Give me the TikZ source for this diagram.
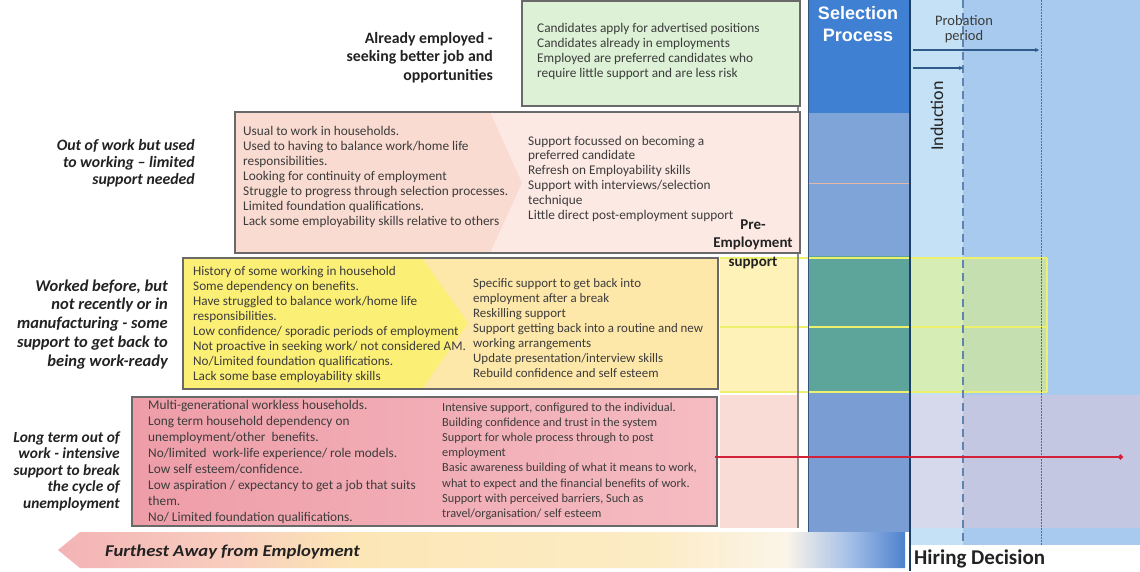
\documentclass[tikz,border=0pt]{standalone}
\usepackage{fontspec}
\setmainfont{Carlito}
\newfontfamily\arialf{Liberation Sans}
\usetikzlibrary{arrows.meta}
\definecolor{greenfill}{HTML}{DDF1D6}
\definecolor{boxborder}{HTML}{696969}
\definecolor{rowtwoleft}{HTML}{F9DBD1}
\definecolor{rowtworight}{HTML}{FCE9E3}
\definecolor{rowthreeyellow}{HTML}{FCEF76}
\definecolor{rowthreeright}{HTML}{FDE7A9}
\definecolor{rowfourleft}{HTML}{EE9DA8}
\definecolor{rowfourright}{HTML}{F5BCC2}
\definecolor{preyellow}{HTML}{FFF2B8}
\definecolor{prepink}{HTML}{FADCD6}
\definecolor{seltop}{HTML}{3F80D2}
\definecolor{selmid}{HTML}{7FA4D7}
\definecolor{selteal}{HTML}{5DA59B}
\definecolor{selbot}{HTML}{7A9ED4}
\definecolor{lightcol}{HTML}{C4E1F5}
\definecolor{rightblue}{HTML}{A8CAEE}
\definecolor{bandgreenA}{HTML}{D6EDB6}
\definecolor{bandgreenB}{HTML}{C6DFB1}
\definecolor{bandline}{HTML}{ECF06C}
\definecolor{pinkbandA}{HTML}{D6D9EB}
\definecolor{pinkbandB}{HTML}{C3C7E2}
\definecolor{navy}{HTML}{1F3E66}
\definecolor{seledge}{HTML}{35557F}
\definecolor{dashcol}{HTML}{5F84B0}
\definecolor{dotcol}{HTML}{4A6F9E}
\definecolor{redline}{HTML}{D4213A}
\definecolor{arrowline}{HTML}{2E5B8A}
\definecolor{txtgray}{HTML}{3C3C3C}
\definecolor{lblcol}{HTML}{222222}
\definecolor{grayline}{HTML}{8A8A8A}
\definecolor{faintorange}{HTML}{E6B7A5}
\definecolor{arrA}{HTML}{F3B3B5}
\definecolor{arrB}{HTML}{F8CDBE}
\definecolor{arrC}{HTML}{FCE6B6}
\definecolor{arrD}{HTML}{FCECC4}
\definecolor{arrE}{HTML}{FBF4E8}
\definecolor{arrF}{HTML}{A9C3E8}
\definecolor{arrG}{HTML}{4E82CE}
\pgfdeclarehorizontalshading{arrowshade}{100bp}{color(0bp)=(arrA); color(25bp)=(arrA); color(35bp)=(arrB); color(42.5bp)=(arrC); color(60bp)=(arrD); color(68bp)=(arrE); color(71.5bp)=(arrF); color(75bp)=(arrG); color(100bp)=(arrG)}
\newcommand\LftLines[2]{\vtop{\baselineskip=#1\lineskiplimit=-30pt\lineskip=0pt\halign{##\hfil\cr#2\crcr}}}
\newcommand\RgtLines[2]{\vtop{\baselineskip=#1\lineskiplimit=-30pt\lineskip=0pt\halign{\hfil##\cr#2\crcr}}}
\newcommand\CtrLines[2]{\vtop{\baselineskip=#1\lineskiplimit=-30pt\lineskip=0pt\halign{\hfil##\hfil\cr#2\crcr}}}
\begin{document}
\begin{tikzpicture}[x=1pt,y=-1pt,
  boxtext/.style={inner sep=0pt, anchor=base west, text=txtgray},
  lbl/.style={inner sep=0pt, anchor=base east, font=\fontsize{15.8}{18}\selectfont\bfseries, text=lblcol},
  lbli/.style={lbl, font=\fontsize{15.8}{18}\selectfont\bfseries\itshape},
  rowborder/.style={draw=boxborder, line width=1.7pt},
  bandstroke/.style={draw=bandline, line width=2.2pt},
  tick/.style={draw=arrowline, line width=1.3pt, -{Stealth[length=4pt,width=4pt]}}]
\fill[white] (0,0) rectangle (1140,571);
\useasboundingbox (0,0) rectangle (1140,571);
% right region
\fill[rightblue] (910,0) rectangle (1140,545);
\fill[lightcol] (910,0) rectangle (963,545);
% selection column
\fill[seltop] (808,0) rectangle (910,113);
\fill[selmid] (808,113) rectangle (910,256);
\fill[selteal] (808,256) rectangle (910,393);
\fill[selbot] (808,393) rectangle (910,532);
\draw[faintorange, line width=1pt] (808,183) -- (910,183);
% yellow band
\fill[preyellow] (720,258) rectangle (798,392);
\fill[bandgreenA] (910,258) rectangle (963,392);
\fill[bandgreenB] (963,258) rectangle (1047,392);
\draw[bandstroke] (720,258) -- (1047,258) (720,327) -- (1047,327) (720,392) -- (1047,392) (1047,258) -- (1047,392);
% pink band
\fill[prepink] (720,395) rectangle (798,528);
\fill[pinkbandA] (910,395) rectangle (963,528);
\fill[pinkbandB] (963,395) rectangle (1140,528);
% edges
\draw[grayline, line width=1.2pt] (798,0) -- (798,528);
\draw[seledge, line width=1pt] (808,0) -- (808,532);
\draw[navy, line width=2pt] (910,0) -- (910,571);
% row 1
\fill[greenfill] (522,1) rectangle (800,106);
\draw[rowborder] (522,1) rectangle (800,106);
% row 2
\fill[rowtworight] (235,112) rectangle (800,253);
\fill[rowtwoleft] (235,112) -- (490,112) -- (522,183) -- (490,253) -- (235,253) -- cycle;
\draw[rowborder] (235,112) rectangle (800,253);
% row 3
\fill[rowthreeright] (183,258) rectangle (718,389);
\fill[rowthreeyellow] (183,258) -- (422,258) -- (468,323) -- (422,389) -- (183,389) -- cycle;
\draw[rowborder] (183,258) rectangle (718,389);
% row 4
\shade[left color=rowfourleft, right color=rowfourright] (132,397) rectangle (717,526);
\draw[rowborder] (132,397) rectangle (717,526);
% timeline lines
\draw[dashcol, line width=2.2pt, dash pattern=on 8pt off 5pt] (963,0) -- (963,545);
\draw[dotcol, line width=1pt, dash pattern=on 1.5pt off 1.5pt] (1041,0) -- (1041,545);
\coordinate (pa) at (913,50);
\coordinate (pb) at (1039,50);
\coordinate (ia) at (913,68);
\coordinate (ib) at (963,68);
\draw[tick] (pa) -- (pb);
\draw[tick] (ia) -- (ib);
% red line
\coordinate (rs) at (715,457);
\coordinate (re) at (1123,457);
\draw[redline, line width=1.5pt, -{Circle[length=5pt]}] (rs) -- (re);
% bottom arrow
\shade[shading=arrowshade] (58,550) -- (80,532) -- (905,532) -- (905,568) -- (80,568) -- cycle;
% texts
\node[boxtext, font=\fontsize{13.3}{15}\selectfont] (t1) at (537,32) {\LftLines{15pt}{Candidates apply for advertised positions\cr Candidates already in employments\cr Employed are preferred candidates who\cr require little support and are less risk}};
\node[boxtext, font=\fontsize{13.3}{15}\selectfont] (t2a) at (243,135) {\LftLines{15pt}{Usual to work in households.\cr Used to having to balance work/home life\cr responsibilities.\cr Looking for continuity of employment\cr Struggle to progress through selection processes.\cr Limited foundation qualifications.\cr Lack some employability skills relative to others}};
\node[boxtext, font=\fontsize{13.3}{15}\selectfont] (t2b) at (528,145) {\LftLines{14.8pt}{Support focussed on becoming a\cr preferred candidate\cr Refresh on Employability skills\cr Support with interviews/selection\cr technique\cr Little direct post-employment support}};
\node[boxtext, font=\fontsize{13.2}{15}\selectfont] (t3a) at (193,275) {\LftLines{15pt}{History of some working in household\cr Some dependency on benefits.\cr Have struggled to balance work/home life\cr responsibilities.\cr Low confidence/ sporadic periods of employment\cr Not proactive in seeking work/ not considered AM.\cr No/Limited foundation qualifications.\cr Lack some base employability skills}};
\node[boxtext, font=\fontsize{12.9}{15}\selectfont] (t3b) at (473,287) {\LftLines{15pt}{Specific support to get back into\cr employment after a break\cr Reskilling support\cr Support getting back into a routine and new\cr working arrangements\cr Update presentation/interview skills\cr Rebuild confidence and self esteem}};
\node[boxtext, font=\fontsize{13.3}{15}\selectfont] (t4a) at (148,409) {\LftLines{16pt}{Multi-generational workless households.\cr Long term household dependency on\cr unemployment/other\ \ benefits.\cr No/limited\ \ work-life experience/ role models.\cr Low self esteem/confidence.\cr Low aspiration / expectancy to get a job that suits\cr them.\cr No/ Limited foundation qualifications.}};
\node[boxtext, font=\fontsize{12.3}{15}\selectfont] (t4b) at (442,411) {\LftLines{15.2pt}{Intensive support, configured to the individual.\cr Building confidence and trust in the system\cr Support for whole process through to post\cr employment\cr Basic awareness building of what it means to work,\cr what to expect and the financial benefits of work.\cr Support with perceived barriers, Such as\cr travel/organisation/ self esteem}};
\node[lbl] (l1) at (493,43) {\RgtLines{18.5pt}{Already employed -\cr seeking better job and\cr opportunities}};
\node[lbli] (l2) at (195,150) {\RgtLines{17pt}{Out of work but used\cr to working -- limited\cr support needed}};
\node[lbli, font=\fontsize{16.5}{19}\selectfont\bfseries\itshape] (l3) at (168,291) {\RgtLines{18.8pt}{Worked before, but\cr not recently or in\cr manufacturing - some\cr support to get back to\cr being work-ready}};
\node[lbli, font=\fontsize{15.4}{18}\selectfont\bfseries\itshape] (l4) at (120,442) {\RgtLines{16.5pt}{Long term out of\cr work - intensive\cr support to break\cr the cycle of\cr unemployment}};
\node[inner sep=0pt, anchor=base, font=\fontsize{15}{18}\selectfont\bfseries, text=lblcol] (pre) at (753,229) {\CtrLines{18.5pt}{Pre-\cr Employment\cr support}};
\node[inner sep=0pt, anchor=base, font=\arialf\fontsize{18}{22}\selectfont\bfseries, text=white] (sel) at (858,19) {\CtrLines{22pt}{Selection\cr Process}};
\node[inner sep=0pt, anchor=base, font=\fontsize{14.5}{16}\selectfont, text=txtgray] (prob) at (964,25) {\CtrLines{15pt}{Probation\cr period}};
\node[inner sep=0pt, rotate=90, font=\fontsize{18}{20}\selectfont, text=lblcol] (ind) at (937,116) {Induction};
\node[inner sep=0pt, anchor=base west, font=\fontsize{21}{24}\selectfont\bfseries, text=lblcol] (hire) at (914,564) {Hiring Decision};
\node[inner sep=0pt, anchor=base west, font=\fontsize{16.5}{20}\selectfont\bfseries\itshape, text=lblcol] (far) at (105,556) {\scalebox{1.13}[1]{Furthest Away from Employment}};
\end{tikzpicture}
\end{document}
